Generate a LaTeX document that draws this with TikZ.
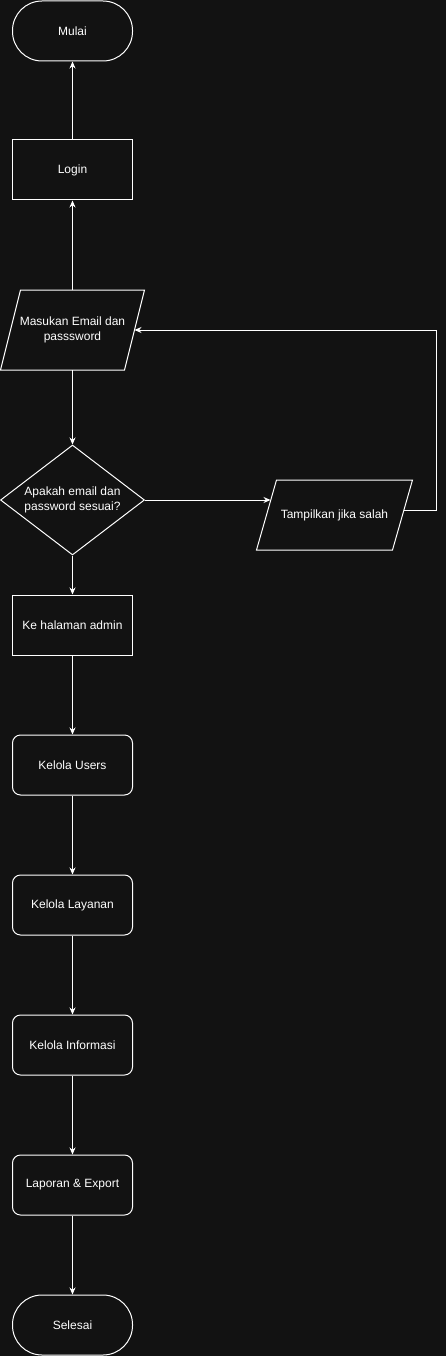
\documentclass[tikz,border=0pt]{standalone}
\usepackage{fontspec}
\setmainfont{Liberation Sans}
\usetikzlibrary{shapes.geometric,arrows.meta,calc}
\definecolor{bgdark}{HTML}{121212}
\begin{document}
\begin{tikzpicture}[x=1pt, y=-1pt, line width=1pt, white,
    >={Stealth[length=7pt,width=6pt]},
    every node/.style={font=\fontsize{12}{15.5}\selectfont, text=white, align=center},
    terminal/.style={draw, rounded corners=29.5pt, minimum width=120pt, minimum height=60pt, inner sep=0pt},
    process/.style={draw, minimum width=120pt, minimum height=60pt, inner sep=0pt},
    task/.style={process, rounded corners=8pt},
    iobox/.style={inner sep=0pt, outer sep=0pt},
    decision/.style={draw, diamond, aspect=1.3, minimum width=144pt, minimum height=110pt, inner sep=0pt}]
          \fill[bgdark] (0,0) rectangle (445,1356);

          \node[terminal] (mulai) at (72,31) {Mulai};
          \node[process] (login) at (72,170) {Login};
          \node[iobox, minimum width=124pt, minimum height=80pt] (masuk) at (72,330) {Masukan Email dan\\passsword};
          \node[decision] (cek) at (72,500) {Apakah email dan\\password sesuai?};
          \node[iobox, minimum width=136pt, minimum height=70pt] (tampil) at (334,515) {Tampilkan jika salah};
          \node[process] (admin) at (72,625) {Ke halaman admin};
          \node[task] (users) at (72,765) {Kelola Users};
          \node[task] (layanan) at (72,905) {Kelola Layanan};
          \node[task] (info) at (72,1045) {Kelola Informasi};
          \node[task] (laporan) at (72,1185) {Laporan \& Export};
          \node[terminal] (selesai) at (72,1325) {Selesai};

          % slanted input/output boxes
          \draw ($(masuk.north west)+(10,0)$) -- ($(masuk.north east)+(10,0)$)
                -- ($(masuk.south east)+(-10,0)$) -- ($(masuk.south west)+(-10,0)$) -- cycle;
          \draw ($(tampil.north west)+(10,0)$) -- ($(tampil.north east)+(10,0)$)
                -- ($(tampil.south east)+(-10,0)$) -- ($(tampil.south west)+(-10,0)$) -- cycle;


          \draw[->] (login) -- (mulai);
          \draw[->] (masuk) -- (login);
          \draw[->] (masuk) -- (cek);
          \draw[->, shorten >=-4pt] (cek.east) -- (tampil.west |- cek.east);
          \draw[->] ($(tampil.east)+(1,-5)$) -- ++(33,0) |- (masuk.east);
          \draw[->] (cek) -- (admin);
          \draw[->] (admin) -- (users);
          \draw[->] (users) -- (layanan);
          \draw[->] (layanan) -- (info);
          \draw[->] (info) -- (laporan);
          \draw[->] (laporan) -- (selesai);
        \end{tikzpicture}
\end{document}
